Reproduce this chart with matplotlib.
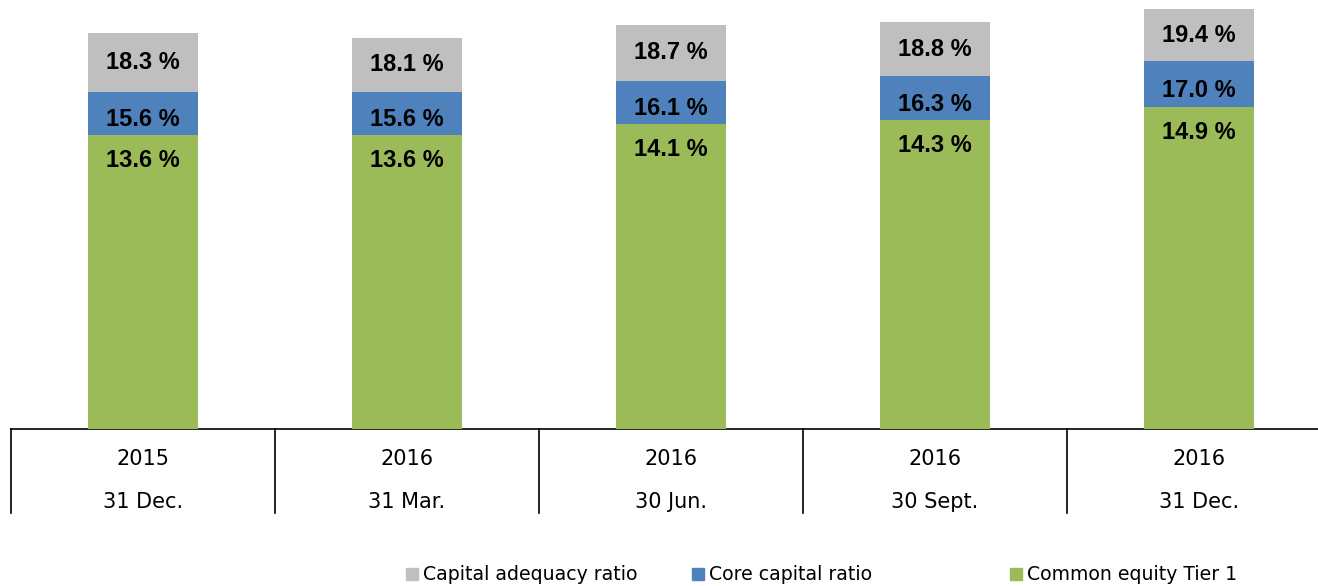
import matplotlib.pyplot as plt
from matplotlib.patches import Rectangle
from matplotlib.transforms import blended_transform_factory

# data
years = ["2015", "2016", "2016", "2016", "2016"]
dates = ["31 Dec.", "31 Mar.", "30 Jun.", "30 Sept.", "31 Dec."]
car = [18.3, 18.1, 18.7, 18.8, 19.4]     # capital adequacy ratio
core = [15.6, 15.6, 16.1, 16.3, 17.0]    # core capital ratio
cet1 = [13.6, 13.6, 14.1, 14.3, 14.9]    # common equity tier 1
series_names = ["Capital adequacy ratio", "Core capital ratio", "Common equity Tier 1"]

C_GRAY = "#BFBFBF"
C_BLUE = "#4F81BD"
C_GREEN = "#9BBB59"

W, H = 1318, 586
fig = plt.figure(figsize=(W / 100, H / 100), dpi=100)
ax = fig.add_axes([11 / W, (H - 428.5) / H, 1320 / W, 428.5 / H])

x = list(range(len(car)))
bw = 0.413
ax.bar(x, car, width=bw, color=C_GRAY, zorder=2)
ax.bar(x, core, width=bw, color=C_BLUE, zorder=3)
ax.bar(x, cet1, width=bw, color=C_GREEN, zorder=4)

lab = dict(ha="center", va="center", fontsize=17, fontweight="bold",
           family="Liberation Sans", zorder=5)
for i in x:
    ax.text(i, (car[i] + core[i]) / 2, f"{car[i]:.1f} %", **lab)
    ax.text(i, (core[i] + cet1[i]) / 2 - 0.3, f"{core[i]:.1f} %", **lab)
    ax.text(i, cet1[i] - 1.2, f"{cet1[i]:.1f} %", **lab)

ax.set_xlim(-0.5, len(car) - 0.5)
ax.set_ylim(0, 428.5 / 21.6)
for s in ["top", "right", "left"]:
    ax.spines[s].set_visible(False)
ax.spines["bottom"].set_linewidth(1.2)
ax.set_yticks([])
ax.set_xticks([])

# table-like category axis
tr = blended_transform_factory(ax.transData, fig.transFigure)
for k in range(len(car)):
    ax.plot([k - 0.5, k - 0.5], [(H - 428.5) / H, (H - 513) / H], color="black",
            lw=1.2, transform=tr, clip_on=False)
for i in x:
    ax.text(i, (H - 459) / H, years[i], ha="center", va="center", fontsize=15, transform=tr)
    ax.text(i, (H - 502) / H, dates[i], ha="center", va="center", fontsize=15, transform=tr)

# legend, placed by hand
leg_x = [406, 692, 1010]
for px, name, c in zip(leg_x, series_names, [C_GRAY, C_BLUE, C_GREEN]):
    fig.patches.append(Rectangle((px / W, (H - 580) / H), 12 / W, 12 / H,
                                 transform=fig.transFigure, color=c))
    fig.text((px + 17) / W, (H - 574) / H, name, ha="left", va="center", fontsize=13.6)

fig.savefig("out.png", dpi=100)
